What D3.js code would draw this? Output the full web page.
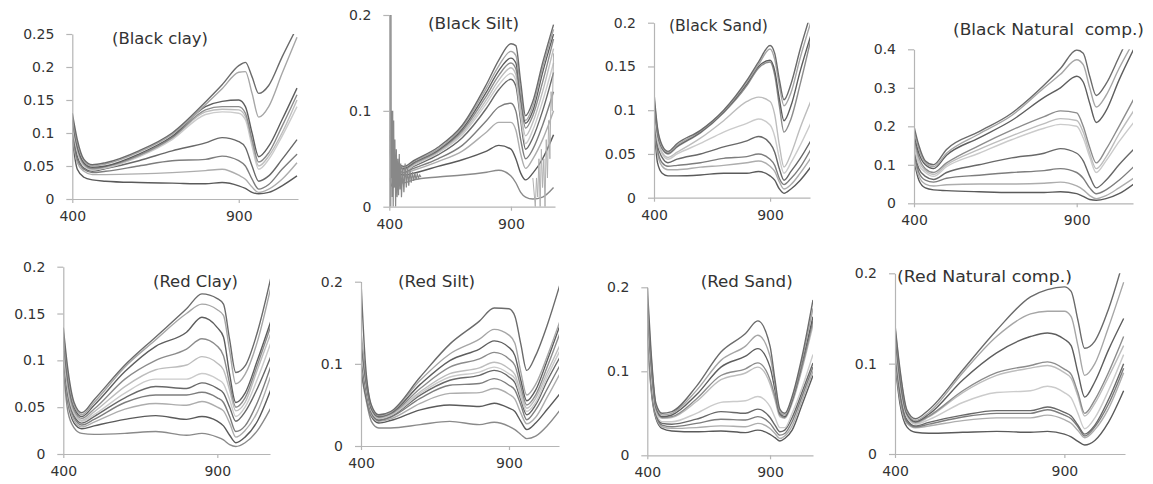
<!DOCTYPE html>
<html><head><meta charset="utf-8">
<script src="https://cdn.jsdelivr.net/npm/d3@7"></script>
<style>
html,body{margin:0;padding:0;background:#fff;}
svg{display:block;}
.tick text{font-family:"DejaVu Sans",sans-serif;font-size:14px;fill:#333;}
.title{font-family:"DejaVu Sans",sans-serif;font-size:15px;fill:#333;white-space:pre;}
</style></head>
<body>
<svg id="c" width="1153" height="484"></svg>
<script>
// ---------------- data ----------------
const wavelengths = [400, 415, 435, 460, 500, 600, 700, 800, 850, 900, 920, 940, 960, 990, 1030, 1075];
const xTickValues = [400, 900];
const titles = ["(Black clay)", "(Black Silt)", "(Black Sand)", "(Black Natural  comp.)",
                "(Red Clay)", "(Red Silt)", "(Red Sand)", "(Red Natural comp.)"];
const yTicksBlackClay = [0, 0.05, 0.1, 0.15, 0.2, 0.25];
const yTicksBlackSilt = [0, 0.1, 0.2];
const yTicksBlackSand = [0, 0.05, 0.1, 0.15, 0.2];
const yTicksBlackNatural = [0, 0.1, 0.2, 0.3, 0.4];
const yTicksRedClay = [0, 0.05, 0.1, 0.15, 0.2];
const yTicksRedSilt = [0, 0.1, 0.2];
const yTicksRedSand = [0, 0.1, 0.2];
const yTicksRedNatural = [0, 0.1, 0.2];

const blackClay = [
 [0.13, 0.09, 0.06, 0.052, 0.055, 0.073, 0.1, 0.147, 0.173, 0.202, 0.207, 0.185, 0.16, 0.172, 0.215, 0.26],
 [0.125, 0.085, 0.058, 0.05, 0.053, 0.071, 0.098, 0.143, 0.167, 0.192, 0.193, 0.16, 0.124, 0.14, 0.19, 0.245],
 [0.12, 0.08, 0.055, 0.048, 0.05, 0.068, 0.095, 0.14, 0.148, 0.15, 0.14, 0.1, 0.064, 0.08, 0.12, 0.168],
 [0.12, 0.078, 0.053, 0.046, 0.049, 0.066, 0.093, 0.135, 0.14, 0.14, 0.13, 0.09, 0.056, 0.07, 0.11, 0.158],
 [0.115, 0.075, 0.052, 0.045, 0.048, 0.065, 0.092, 0.132, 0.136, 0.135, 0.125, 0.085, 0.05, 0.065, 0.1, 0.15],
 [0.11, 0.072, 0.05, 0.044, 0.047, 0.064, 0.09, 0.128, 0.132, 0.13, 0.12, 0.08, 0.045, 0.06, 0.095, 0.14],
 [0.11, 0.065, 0.047, 0.042, 0.046, 0.058, 0.073, 0.085, 0.093, 0.087, 0.078, 0.05, 0.027, 0.035, 0.06, 0.09],
 [0.1, 0.06, 0.045, 0.04, 0.042, 0.05, 0.058, 0.06, 0.065, 0.058, 0.05, 0.03, 0.015, 0.022, 0.045, 0.068],
 [0.1, 0.055, 0.042, 0.037, 0.037, 0.038, 0.04, 0.043, 0.045, 0.036, 0.03, 0.018, 0.01, 0.015, 0.03, 0.055],
 [0.09, 0.045, 0.033, 0.029, 0.027, 0.025, 0.024, 0.023, 0.025, 0.02, 0.016, 0.01, 0.008, 0.01, 0.02, 0.035]
];
const blackSilt = [
 [0.08, 0.06, 0.045, 0.042, 0.048, 0.062, 0.085, 0.128, 0.153, 0.17, 0.168, 0.13, 0.095, 0.11, 0.15, 0.19],
 [0.08, 0.06, 0.045, 0.041, 0.047, 0.06, 0.083, 0.124, 0.147, 0.162, 0.158, 0.12, 0.09, 0.105, 0.145, 0.185],
 [0.075, 0.055, 0.043, 0.04, 0.046, 0.059, 0.081, 0.12, 0.142, 0.155, 0.15, 0.115, 0.087, 0.1, 0.14, 0.18],
 [0.075, 0.055, 0.042, 0.039, 0.045, 0.058, 0.079, 0.116, 0.137, 0.15, 0.144, 0.11, 0.082, 0.095, 0.13, 0.175],
 [0.07, 0.05, 0.041, 0.038, 0.044, 0.057, 0.077, 0.112, 0.132, 0.145, 0.138, 0.1, 0.074, 0.088, 0.12, 0.165],
 [0.07, 0.05, 0.04, 0.037, 0.043, 0.056, 0.075, 0.108, 0.127, 0.139, 0.132, 0.095, 0.066, 0.08, 0.11, 0.15],
 [0.07, 0.05, 0.04, 0.037, 0.042, 0.054, 0.072, 0.103, 0.122, 0.133, 0.126, 0.09, 0.06, 0.072, 0.1, 0.14],
 [0.065, 0.045, 0.038, 0.036, 0.04, 0.05, 0.064, 0.09, 0.104, 0.108, 0.1, 0.07, 0.05, 0.06, 0.085, 0.12],
 [0.06, 0.045, 0.037, 0.035, 0.038, 0.047, 0.058, 0.078, 0.088, 0.088, 0.08, 0.055, 0.04, 0.05, 0.07, 0.1],
 [0.06, 0.04, 0.035, 0.033, 0.035, 0.042, 0.049, 0.058, 0.064, 0.06, 0.05, 0.035, 0.028, 0.035, 0.05, 0.075],
 [0.03, 0.02, 0.025, 0.025, 0.028, 0.031, 0.033, 0.036, 0.038, 0.032, 0.025, 0.015, 0.01, 0.008, 0.01, 0.02]
];
// noisy detector edges in the Black Silt spectra
const blackSiltNoiseStartWl = [400, 401, 402, 403, 404, 405, 406, 407, 408, 410, 412, 414, 416, 418, 420, 423, 426, 429, 432, 435, 438, 441, 444, 447, 450, 455, 460, 465, 470, 475, 480, 485, 490, 495, 500, 505, 510, 515, 520, 525, 530];
const blackSiltNoiseStart   = [0.03, 0.25, 0.0, 0.25, 0.02, 0.22, 0.0, 0.2, 0.03, 0.1, 0.01, 0.1, 0.0, 0.09, 0.02, 0.07, 0.0, 0.06, 0.01, 0.05, 0.012, 0.055, 0.018, 0.045, 0.01, 0.04, 0.015, 0.045, 0.02, 0.04, 0.022, 0.038, 0.025, 0.036, 0.027, 0.035, 0.028, 0.034, 0.03, 0.033, 0.031];
const blackSiltNoiseEndWl = [990, 1000, 1005, 1010, 1015, 1020, 1025, 1030, 1035, 1040, 1045, 1050, 1055, 1060, 1065, 1070, 1075];
const blackSiltNoiseEnd   = [0.03, 0.0, 0.03, 0.01, 0.05, 0.0, 0.06, 0.02, 0.05, 0.0, 0.07, 0.03, 0.09, 0.05, 0.12, 0.1, 0.16];

const blackSand = [
 [0.12, 0.08, 0.06, 0.053, 0.062, 0.077, 0.1, 0.134, 0.155, 0.174, 0.165, 0.135, 0.112, 0.13, 0.17, 0.21],
 [0.115, 0.078, 0.058, 0.052, 0.06, 0.076, 0.099, 0.132, 0.152, 0.17, 0.158, 0.128, 0.105, 0.12, 0.16, 0.2],
 [0.11, 0.075, 0.057, 0.051, 0.059, 0.075, 0.098, 0.13, 0.15, 0.157, 0.145, 0.113, 0.088, 0.105, 0.145, 0.185],
 [0.11, 0.074, 0.056, 0.05, 0.058, 0.074, 0.097, 0.128, 0.148, 0.155, 0.14, 0.105, 0.075, 0.09, 0.13, 0.18],
 [0.1, 0.07, 0.052, 0.046, 0.052, 0.068, 0.088, 0.11, 0.115, 0.11, 0.095, 0.06, 0.035, 0.05, 0.08, 0.11],
 [0.1, 0.065, 0.05, 0.044, 0.05, 0.062, 0.075, 0.085, 0.09, 0.083, 0.07, 0.045, 0.028, 0.04, 0.06, 0.085],
 [0.095, 0.06, 0.046, 0.04, 0.044, 0.05, 0.058, 0.065, 0.07, 0.062, 0.052, 0.033, 0.02, 0.03, 0.045, 0.065],
 [0.09, 0.055, 0.04, 0.036, 0.037, 0.04, 0.045, 0.047, 0.05, 0.044, 0.037, 0.022, 0.015, 0.022, 0.035, 0.055],
 [0.09, 0.05, 0.036, 0.032, 0.032, 0.035, 0.037, 0.04, 0.042, 0.036, 0.03, 0.018, 0.01, 0.015, 0.028, 0.045],
 [0.085, 0.04, 0.028, 0.025, 0.025, 0.026, 0.028, 0.028, 0.03, 0.025, 0.02, 0.01, 0.005, 0.01, 0.02, 0.035]
];
const blackNatural = [
 [0.2, 0.15, 0.11, 0.1, 0.14, 0.186, 0.234, 0.307, 0.35, 0.398, 0.39, 0.33, 0.28, 0.31, 0.38, 0.46],
 [0.19, 0.14, 0.105, 0.095, 0.13, 0.18, 0.228, 0.3, 0.335, 0.373, 0.36, 0.3, 0.25, 0.28, 0.35, 0.42],
 [0.18, 0.13, 0.1, 0.09, 0.125, 0.17, 0.215, 0.275, 0.3, 0.33, 0.315, 0.26, 0.21, 0.24, 0.32, 0.4],
 [0.17, 0.12, 0.09, 0.08, 0.105, 0.15, 0.19, 0.225, 0.24, 0.235, 0.2, 0.145, 0.105, 0.14, 0.2, 0.27],
 [0.16, 0.11, 0.085, 0.075, 0.1, 0.14, 0.175, 0.207, 0.22, 0.215, 0.185, 0.13, 0.09, 0.12, 0.18, 0.24],
 [0.15, 0.1, 0.08, 0.07, 0.095, 0.13, 0.165, 0.195, 0.205, 0.2, 0.17, 0.12, 0.08, 0.11, 0.16, 0.21],
 [0.14, 0.09, 0.07, 0.062, 0.08, 0.1, 0.118, 0.13, 0.142, 0.13, 0.11, 0.07, 0.04, 0.06, 0.1, 0.14],
 [0.13, 0.08, 0.06, 0.055, 0.065, 0.073, 0.08, 0.085, 0.09, 0.08, 0.065, 0.04, 0.025, 0.035, 0.06, 0.095],
 [0.12, 0.07, 0.05, 0.045, 0.048, 0.05, 0.05, 0.052, 0.055, 0.045, 0.035, 0.02, 0.012, 0.02, 0.04, 0.065],
 [0.11, 0.06, 0.04, 0.035, 0.033, 0.03, 0.028, 0.028, 0.03, 0.025, 0.018, 0.01, 0.008, 0.012, 0.025, 0.05]
];
const redClay = [
 [0.135, 0.09, 0.055, 0.044, 0.058, 0.095, 0.125, 0.155, 0.171, 0.166, 0.16, 0.122, 0.087, 0.094, 0.13, 0.19],
 [0.13, 0.085, 0.052, 0.042, 0.055, 0.093, 0.122, 0.15, 0.16, 0.154, 0.148, 0.11, 0.075, 0.085, 0.12, 0.18],
 [0.125, 0.08, 0.05, 0.04, 0.052, 0.088, 0.115, 0.13, 0.146, 0.135, 0.125, 0.085, 0.055, 0.065, 0.1, 0.143],
 [0.12, 0.075, 0.047, 0.038, 0.048, 0.08, 0.1, 0.112, 0.123, 0.115, 0.105, 0.075, 0.05, 0.06, 0.095, 0.138],
 [0.115, 0.07, 0.045, 0.036, 0.045, 0.072, 0.09, 0.095, 0.104, 0.097, 0.09, 0.068, 0.046, 0.055, 0.09, 0.13],
 [0.11, 0.068, 0.043, 0.035, 0.042, 0.065, 0.08, 0.08, 0.086, 0.08, 0.075, 0.058, 0.04, 0.05, 0.08, 0.12],
 [0.105, 0.065, 0.041, 0.033, 0.04, 0.06, 0.072, 0.07, 0.076, 0.07, 0.065, 0.05, 0.035, 0.045, 0.07, 0.105],
 [0.1, 0.062, 0.039, 0.031, 0.037, 0.055, 0.063, 0.063, 0.066, 0.06, 0.055, 0.04, 0.024, 0.03, 0.055, 0.095],
 [0.1, 0.058, 0.036, 0.029, 0.034, 0.048, 0.054, 0.052, 0.056, 0.05, 0.046, 0.033, 0.018, 0.025, 0.045, 0.085],
 [0.095, 0.055, 0.033, 0.027, 0.03, 0.037, 0.041, 0.037, 0.04, 0.035, 0.03, 0.02, 0.012, 0.018, 0.035, 0.07],
 [0.09, 0.045, 0.028, 0.022, 0.021, 0.022, 0.024, 0.02, 0.022, 0.018, 0.015, 0.01, 0.008, 0.012, 0.025, 0.05]
];
const redSilt = [
 [0.2, 0.1, 0.05, 0.038, 0.042, 0.084, 0.124, 0.152, 0.168, 0.167, 0.158, 0.124, 0.092, 0.11, 0.148, 0.2],
 [0.14, 0.09, 0.048, 0.037, 0.041, 0.08, 0.112, 0.13, 0.142, 0.135, 0.125, 0.09, 0.062, 0.075, 0.11, 0.155],
 [0.13, 0.085, 0.046, 0.036, 0.04, 0.075, 0.104, 0.118, 0.128, 0.12, 0.11, 0.08, 0.055, 0.068, 0.105, 0.15],
 [0.125, 0.082, 0.045, 0.035, 0.039, 0.07, 0.096, 0.106, 0.114, 0.106, 0.098, 0.072, 0.05, 0.062, 0.097, 0.14],
 [0.12, 0.08, 0.044, 0.034, 0.038, 0.066, 0.088, 0.095, 0.102, 0.094, 0.087, 0.065, 0.046, 0.058, 0.09, 0.125],
 [0.115, 0.078, 0.043, 0.033, 0.037, 0.064, 0.084, 0.09, 0.096, 0.088, 0.082, 0.06, 0.042, 0.053, 0.085, 0.118],
 [0.11, 0.076, 0.042, 0.032, 0.036, 0.062, 0.08, 0.086, 0.092, 0.084, 0.077, 0.056, 0.038, 0.05, 0.08, 0.11],
 [0.105, 0.072, 0.04, 0.031, 0.035, 0.058, 0.074, 0.076, 0.082, 0.074, 0.068, 0.05, 0.032, 0.044, 0.07, 0.1],
 [0.1, 0.068, 0.038, 0.03, 0.033, 0.052, 0.064, 0.065, 0.07, 0.063, 0.057, 0.04, 0.027, 0.035, 0.06, 0.09],
 [0.095, 0.064, 0.036, 0.028, 0.031, 0.044, 0.05, 0.048, 0.052, 0.046, 0.042, 0.03, 0.02, 0.028, 0.045, 0.065],
 [0.09, 0.06, 0.03, 0.022, 0.022, 0.026, 0.03, 0.026, 0.029, 0.024, 0.02, 0.014, 0.009, 0.012, 0.025, 0.045]
];
const redSand = [
 [0.2, 0.125, 0.062, 0.05, 0.052, 0.082, 0.123, 0.145, 0.16, 0.13, 0.09, 0.055, 0.05, 0.07, 0.117, 0.185],
 [0.19, 0.12, 0.06, 0.048, 0.05, 0.077, 0.113, 0.13, 0.143, 0.118, 0.085, 0.052, 0.048, 0.068, 0.113, 0.175],
 [0.18, 0.115, 0.058, 0.046, 0.048, 0.072, 0.105, 0.118, 0.127, 0.105, 0.078, 0.05, 0.046, 0.066, 0.11, 0.165],
 [0.175, 0.11, 0.056, 0.045, 0.046, 0.067, 0.095, 0.103, 0.11, 0.09, 0.07, 0.048, 0.045, 0.064, 0.105, 0.16],
 [0.17, 0.105, 0.054, 0.044, 0.045, 0.064, 0.09, 0.098, 0.105, 0.085, 0.066, 0.046, 0.044, 0.062, 0.102, 0.155],
 [0.165, 0.1, 0.052, 0.04, 0.04, 0.05, 0.063, 0.065, 0.07, 0.058, 0.045, 0.033, 0.033, 0.05, 0.08, 0.12],
 [0.16, 0.095, 0.05, 0.038, 0.037, 0.043, 0.052, 0.05, 0.055, 0.045, 0.036, 0.028, 0.03, 0.045, 0.075, 0.11],
 [0.155, 0.09, 0.048, 0.036, 0.034, 0.038, 0.043, 0.042, 0.046, 0.038, 0.03, 0.024, 0.026, 0.04, 0.07, 0.105],
 [0.15, 0.085, 0.046, 0.034, 0.032, 0.033, 0.035, 0.034, 0.038, 0.032, 0.026, 0.02, 0.023, 0.035, 0.065, 0.1],
 [0.145, 0.08, 0.044, 0.032, 0.029, 0.028, 0.029, 0.027, 0.03, 0.025, 0.021, 0.017, 0.02, 0.03, 0.06, 0.095]
];
const redNatural = [
 [0.143, 0.093, 0.049, 0.039, 0.049, 0.093, 0.137, 0.174, 0.182, 0.185, 0.18, 0.148, 0.117, 0.125, 0.16, 0.215],
 [0.14, 0.09, 0.047, 0.037, 0.046, 0.09, 0.13, 0.155, 0.158, 0.158, 0.152, 0.12, 0.087, 0.1, 0.14, 0.19],
 [0.135, 0.085, 0.045, 0.036, 0.044, 0.082, 0.112, 0.13, 0.134, 0.127, 0.12, 0.09, 0.063, 0.08, 0.115, 0.15],
 [0.13, 0.08, 0.044, 0.035, 0.042, 0.07, 0.09, 0.098, 0.102, 0.094, 0.088, 0.068, 0.045, 0.06, 0.09, 0.13],
 [0.125, 0.078, 0.043, 0.034, 0.041, 0.068, 0.087, 0.095, 0.098, 0.09, 0.084, 0.064, 0.042, 0.056, 0.085, 0.12],
 [0.12, 0.075, 0.041, 0.033, 0.038, 0.057, 0.068, 0.07, 0.075, 0.068, 0.062, 0.045, 0.028, 0.04, 0.07, 0.11],
 [0.115, 0.07, 0.038, 0.031, 0.035, 0.043, 0.048, 0.048, 0.052, 0.046, 0.042, 0.032, 0.022, 0.032, 0.06, 0.1],
 [0.11, 0.065, 0.036, 0.03, 0.033, 0.041, 0.045, 0.045, 0.049, 0.043, 0.039, 0.03, 0.02, 0.03, 0.055, 0.095],
 [0.105, 0.06, 0.034, 0.029, 0.031, 0.037, 0.04, 0.04, 0.043, 0.038, 0.034, 0.026, 0.018, 0.027, 0.05, 0.09],
 [0.1, 0.055, 0.03, 0.024, 0.023, 0.024, 0.025, 0.024, 0.025, 0.022, 0.019, 0.014, 0.01, 0.015, 0.035, 0.07]
];

const lineShades = ["#6b6b6b", "#a6a6a6", "#5e5e5e", "#8c8c8c", "#bdbdbd", "#cbcbcb", "#686868", "#7d7d7d", "#adadad", "#5a5a5a", "#8a8a8a"];

// ---------------- layout (pixel geometry only) ----------------
const layout = [
 {x0: 72.3, x1: 298, xmax: 1078, y0: 199,   yTop: 34,    ymax: 0.25, tx: 112,   ty: 44,    tw: 96},
 {x0: 389.3, x1: 555, xmax: 1081, y0: 206.7, yTop: 15,   ymax: 0.2,  tx: 428,   ty: 29,    tw: 91},
 {x0: 654,  x1: 810, xmax: 1072, y0: 197.7, yTop: 22.7,  ymax: 0.2,  tx: 669,   ty: 31,    tw: 99},
 {x0: 914,  x1: 1133, xmax: 1073, y0: 203.3, yTop: 49.3, ymax: 0.4,  tx: 953,   ty: 35,    tw: 191},
 {x0: 63.3, x1: 270, xmax: 1071, y0: 454,   yTop: 266.7, ymax: 0.2,  tx: 153,   ty: 287,   tw: 85},
 {x0: 361,  x1: 559, xmax: 1069, y0: 446,   yTop: 281.7, ymax: 0.2,  tx: 398,   ty: 287,   tw: 77},
 {x0: 647.3, x1: 813, xmax: 1075, y0: 455.3, yTop: 287.3, ymax: 0.2, tx: 700.7, ty: 286.7, tw: 92},
 {x0: 895,  x1: 1125, xmax: 1079, y0: 454,  yTop: 273.3, ymax: 0.2,  tx: 897,   ty: 281.7, tw: 175}
];

const panelSeries = [blackClay, blackSilt, blackSand, blackNatural, redClay, redSilt, redSand, redNatural];
const panelTicks = [yTicksBlackClay, yTicksBlackSilt, yTicksBlackSand, yTicksBlackNatural,
                    yTicksRedClay, yTicksRedSilt, yTicksRedSand, yTicksRedNatural];

const svg = d3.select("#c");
const defs = svg.append("defs");

layout.forEach((L, i) => {
  const x = d3.scaleLinear().domain([400, L.xmax]).range([L.x0, L.x1]);
  const y = d3.scaleLinear().domain([0, L.ymax]).range([L.y0, L.yTop]);
  const g = svg.append("g");

  defs.append("clipPath").attr("id", "clip" + i).append("rect")
    .attr("x", L.x0).attr("y", L.yTop)
    .attr("width", L.x1 - L.x0).attr("height", L.y0 - L.yTop);

  const line = d3.line().x(d => x(d[0])).y(d => y(d[1])).curve(d3.curveMonotoneX);
  const lines = g.append("g").attr("clip-path", `url(#clip${i})`);

  const series = panelSeries[i];
  // draw from bottom to top so upper curves are drawn last
  series.slice().reverse().forEach((vals, rj) => {
    const j = series.length - 1 - rj;
    lines.append("path")
      .attr("d", line(wavelengths.map((w, k) => [w, vals[k]])))
      .attr("fill", "none")
      .attr("stroke", lineShades[j % lineShades.length])
      .attr("stroke-width", 1.4)
      .attr("stroke-linejoin", "round");
  });
  if (i === 1) {
    const noiseLine = d3.line().x(d => x(d[0])).y(d => y(d[1]));
    lines.append("path")
      .attr("d", noiseLine(blackSiltNoiseStartWl.map((w, k) => [w, blackSiltNoiseStart[k]])))
      .attr("fill", "none").attr("stroke", "#888").attr("stroke-width", 1.2);
    lines.append("path")
      .attr("d", noiseLine(blackSiltNoiseEndWl.map((w, k) => [w, blackSiltNoiseEnd[k]])))
      .attr("fill", "none").attr("stroke", "#b0b0b0").attr("stroke-width", 1);
  }

  // axes
  const yAxis = d3.axisLeft(y).tickValues(panelTicks[i]).tickFormat(d => String(d))
    .tickSize(6).tickSizeOuter(0).tickPadding(12);
  const xAxis = d3.axisBottom(x).tickValues(xTickValues).tickFormat(d => String(d))
    .tickSize(4).tickSizeOuter(0).tickPadding(8);
  const ya = g.append("g").attr("transform", `translate(${L.x0},0)`).call(yAxis);
  const xa = g.append("g").attr("transform", `translate(0,${L.y0})`).call(xAxis);
  [ya, xa].forEach(a => {
    a.select(".domain").attr("stroke", "#b5b5b5").attr("stroke-width", 1.2);
    a.selectAll(".tick line").attr("stroke", "#b5b5b5").attr("stroke-width", 1.2);
    a.selectAll(".tick text").attr("fill", "#333");
  });

  g.append("text").attr("class", "title")
    .attr("x", L.tx).attr("y", L.ty)
    .attr("textLength", L.tw).attr("lengthAdjust", "spacingAndGlyphs")
    .attr("xml:space", "preserve")
    .text(titles[i]);
});
</script>
</body></html>
